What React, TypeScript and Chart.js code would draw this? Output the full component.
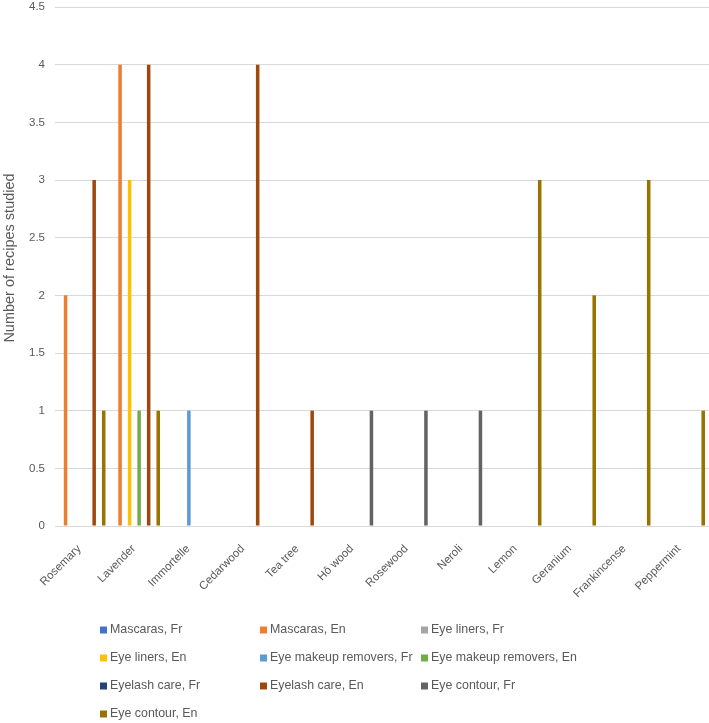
import React, { useEffect, useRef } from "react";
import { Chart, registerables } from "chart.js";

Chart.register(...registerables);

const categories = [
  "Rosemary", "Lavender", "Immortelle", "Cedarwood", "Tea tree", "Hô wood",
  "Rosewood", "Neroli", "Lemon", "Geranium", "Frankincense", "Peppermint",
];

const seriesNames = [
  "Mascaras, Fr", "Mascaras, En", "Eye liners, Fr", "Eye liners, En",
  "Eye makeup removers, Fr", "Eye makeup removers, En", "Eyelash care, Fr",
  "Eyelash care, En", "Eye contour, Fr", "Eye contour, En",
];

const seriesColors = [
  "#4472C4", "#ED7D31", "#A5A5A5", "#FFC000", "#5B9BD5",
  "#70AD47", "#264478", "#9E480E", "#636363", "#997300",
];

const mascarasFr = [0, 0, 0, 0, 0, 0, 0, 0, 0, 0, 0, 0];
const mascarasEn = [2, 4, 0, 0, 0, 0, 0, 0, 0, 0, 0, 0];
const eyeLinersFr = [0, 0, 0, 0, 0, 0, 0, 0, 0, 0, 0, 0];
const eyeLinersEn = [0, 3, 0, 0, 0, 0, 0, 0, 0, 0, 0, 0];
const removersFr = [0, 0, 1, 0, 0, 0, 0, 0, 0, 0, 0, 0];
const removersEn = [0, 1, 0, 0, 0, 0, 0, 0, 0, 0, 0, 0];
const eyelashFr = [0, 0, 0, 0, 0, 0, 0, 0, 0, 0, 0, 0];
const eyelashEn = [3, 4, 0, 4, 1, 0, 0, 0, 0, 0, 0, 0];
const contourFr = [0, 0, 0, 0, 0, 1, 1, 1, 0, 0, 0, 0];
const contourEn = [1, 1, 0, 0, 0, 0, 0, 0, 3, 2, 3, 1];

const seriesValues = [
  mascarasFr, mascarasEn, eyeLinersFr, eyeLinersEn, removersFr,
  removersEn, eyelashFr, eyelashEn, contourFr, contourEn,
];

const yTicks = [0, 0.5, 1, 1.5, 2, 2.5, 3, 3.5, 4, 4.5];
const yTitle = "Number of recipes studied";

const FONT = "'Liberation Sans', Arial, sans-serif";
const TEXT = "#595959";

const gridLegend = {
  id: "gridLegend",
  afterDraw(chart: any) {
    const ctx = chart.ctx;
    const colX = [100, 260, 421];
    const rowY = [630, 658, 686, 714];
    ctx.save();
    ctx.font = `12.4px ${FONT}`;
    ctx.textBaseline = "middle";
    ctx.textAlign = "left";
    chart.data.datasets.forEach((ds: any, i: number) => {
      const x = colX[i % 3];
      const y = rowY[Math.floor(i / 3)];
      ctx.fillStyle = ds.backgroundColor;
      ctx.fillRect(x, y - 3.5, 7, 7);
      ctx.fillStyle = TEXT;
      ctx.fillText(ds.label, x + 10, y);
    });
    // y-axis title
    ctx.translate(10, 258);
    ctx.rotate(-Math.PI / 2);
    ctx.font = `14.5px ${FONT}`;
    ctx.textAlign = "center";
    ctx.fillText(yTitle, 0, 0);
    ctx.restore();
  },
};

export default function App() {
  const ref = useRef<HTMLCanvasElement | null>(null);

  useEffect(() => {
    document.body.style.margin = "0";
    const canvas = ref.current;
    if (!canvas) return;
    const chart = new Chart(canvas, {
      type: "bar",
      data: {
        labels: categories,
        datasets: seriesNames.map((name, i) => ({
          label: name,
          data: seriesValues[i],
          backgroundColor: seriesColors[i],
          borderWidth: 0,
          categoryPercentage: 0.875,
          barPercentage: 0.74,
        })),
      },
      options: {
        animation: false,
        responsive: false,
        maintainAspectRatio: false,
        devicePixelRatio: 1,
        layout: { padding: { top: 7, right: 0, bottom: 117, left: 0 } },
        plugins: {
          legend: { display: false },
          tooltip: { enabled: false },
        },
        scales: {
          x: {
            grid: { display: false },
            border: { display: false },
            ticks: {
              color: TEXT,
              font: { family: FONT, size: 11.5 },
              minRotation: 45,
              maxRotation: 45,
              autoSkip: false,
              padding: 8,
              labelOffset: -3,
            },
            afterFit: (s: any) => {
              s.height = 80;
              s.paddingLeft = 0;
              s.paddingRight = 0;
            },
          },
          y: {
            min: 0,
            max: 4.5,
            afterBuildTicks: (s: any) => { s.ticks = yTicks.map((v) => ({ value: v })); },
            grid: { color: "#D9D9D9", lineWidth: 1, drawTicks: false },
            border: { display: false },
            ticks: {
              color: TEXT,
              font: { family: FONT, size: 11.5 },
              padding: 10,
              callback: (v: any) => String(v),
            },
            title: { display: false },
            afterFit: (s: any) => {
              s.width = 55;
              s.paddingTop = 0;
              s.paddingBottom = 0;
            },
          },
        },
      },
      plugins: [gridLegend],
    });
    return () => chart.destroy();
  }, []);

  return (
    <div style={{ width: 709, height: 723 }}>
      <canvas ref={ref} width={709} height={723} style={{ display: "block" }} />
    </div>
  );
}
